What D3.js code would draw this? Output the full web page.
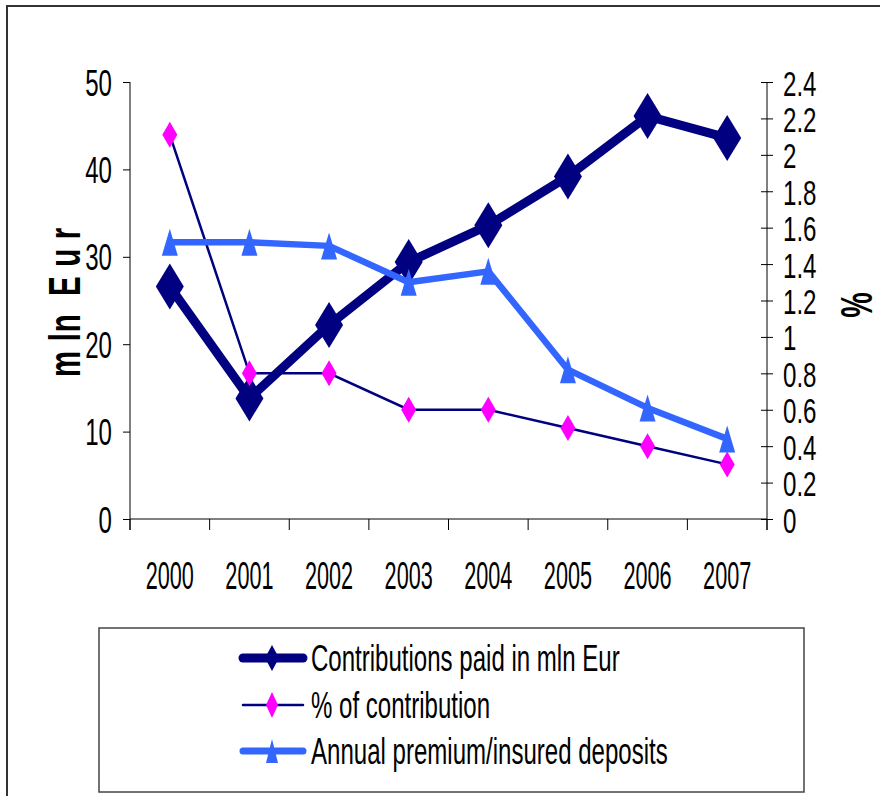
<!DOCTYPE html>
<html><head><meta charset="utf-8">
<script src="https://cdn.jsdelivr.net/npm/d3@7"></script>
<style>
html,body{margin:0;padding:0;background:#fff;}
text{font-family:"Liberation Sans",Arial,sans-serif;fill:#000;}
</style></head>
<body>
<svg id="chart" width="880" height="796"></svg>
<script>
const years = ["2000","2001","2002","2003","2004","2005","2006","2007"];
const contributions = [26.6, 13.8, 22.2, 29.4, 33.6, 39.2, 46.1, 43.6];
const pctContribution = [2.11, 0.8, 0.8, 0.6, 0.6, 0.5, 0.4, 0.3];
const annualPremium = [1.52, 1.52, 1.50, 1.30, 1.36, 0.82, 0.61, 0.44];
const leftTicks = [0, 10, 20, 30, 40, 50];
const rightTicks = [0, 0.2, 0.4, 0.6, 0.8, 1, 1.2, 1.4, 1.6, 1.8, 2, 2.2, 2.4];
const seriesNames = ["Contributions paid in mln Eur", "% of contribution", "Annual premium/insured deposits"];
const leftTitle = "m ln  E u r";
const rightTitle = "%";

const NAVY = "#000080", MAGENTA = "#FF00FF", BLUE = "#3366FF";
const svg = d3.select("#chart");

// outer border
svg.append("rect").attr("x", 7).attr("y", 6).attr("width", 900).attr("height", 820)
  .attr("fill", "none").attr("stroke", "#333").attr("stroke-width", 2);

const x = d3.scaleBand().domain(years).range([130, 767]);
const yL = d3.scaleLinear().domain([0, 50]).range([519, 82]);
const yR = d3.scaleLinear().domain([0, 2.4]).range([519, 82]);
const cx = d => x(d) + x.bandwidth() / 2;

// left axis
const gL = svg.append("g").attr("transform", "translate(130,0)")
  .call(d3.axisLeft(yL).tickValues(leftTicks).tickSize(7).tickSizeOuter(0));
gL.select(".domain").attr("stroke", "#000").attr("d", "M0,82V530");
gL.selectAll(".tick line").attr("stroke", "#000");
gL.selectAll(".tick text").attr("x", null).attr("dy", null)
  .attr("font-size", 37).attr("text-anchor", "end")
  .attr("transform", "translate(-18,13) scale(0.65,1)");

// right axis
const gR = svg.append("g").attr("transform", "translate(767,0)")
  .call(d3.axisRight(yR).tickValues(rightTicks).tickSize(6).tickSizeOuter(0)
    .tickFormat(d => String(+d.toFixed(1))));
gR.select(".domain").attr("stroke", "#000").attr("d", "M0,82V530");
gR.selectAll(".tick line").attr("stroke", "#000").attr("x1", -6).attr("x2", 6);
gR.selectAll(".tick text").attr("x", null).attr("dy", null)
  .attr("font-size", 36).attr("text-anchor", "start")
  .attr("transform", "translate(16,13) scale(0.67,1)");

// bottom axis
const gB = svg.append("g").attr("transform", "translate(0,519)")
  .call(d3.axisBottom(x).tickSize(0).tickSizeOuter(0));
gB.select(".domain").attr("stroke", "#000").attr("d", "M130,0H767");
gB.selectAll(".tick text").attr("y", null).attr("dy", null)
  .attr("font-size", 38).attr("text-anchor", "middle")
  .attr("transform", "translate(0,70) scale(0.57,1)");
const bounds = years.map(d => x(d)).concat([x.range()[1]]);
gB.selectAll("line.bnd").data(bounds).join("line").attr("class", "bnd")
  .attr("x1", d => d).attr("x2", d => d).attr("y1", 0).attr("y2", 11).attr("stroke", "#000");

// axis titles
svg.append("text").attr("transform", "translate(80,302) rotate(-90) scale(0.67,1)")
  .attr("text-anchor", "middle").attr("font-size", 44).attr("font-weight", "bold")
  .attr("xml:space", "preserve")
  .style("white-space", "pre").style("letter-spacing", "1px").text(leftTitle);
svg.append("text").attr("transform", "translate(872,305) rotate(-90) scale(0.65,1)")
  .attr("text-anchor", "middle").attr("font-size", 44).attr("font-weight", "bold")
  .text(rightTitle);

// marker paths
function diamond(w, h) { return `M0,${-h/2}L${w/2},0L0,${h/2}L${-w/2},0Z`; }
function triangle(w, h) { return `M0,${-h/2}L${w/2},${h/2}L${-w/2},${h/2}Z`; }

// series 1: contributions (left axis)
const line1 = d3.line().x((d, i) => cx(years[i])).y(d => yL(d));
svg.append("path").datum(contributions).attr("d", line1).attr("fill", "none")
  .attr("stroke", NAVY).attr("stroke-width", 9).attr("stroke-linejoin", "round");
svg.selectAll("path.m1").data(contributions).join("path").attr("class", "m1")
  .attr("transform", (d, i) => `translate(${cx(years[i])},${yL(d)})`)
  .attr("d", diamond(28, 46)).attr("fill", NAVY);

// series 2: % of contribution (right axis)
const lineR = d3.line().x((d, i) => cx(years[i])).y(d => yR(d));
svg.append("path").datum(pctContribution).attr("d", lineR).attr("fill", "none")
  .attr("stroke", NAVY).attr("stroke-width", 2.5);
svg.selectAll("path.m2").data(pctContribution).join("path").attr("class", "m2")
  .attr("transform", (d, i) => `translate(${cx(years[i])},${yR(d)})`)
  .attr("d", diamond(15, 26)).attr("fill", MAGENTA);

// series 3: annual premium (right axis)
svg.append("path").datum(annualPremium).attr("d", lineR).attr("fill", "none")
  .attr("stroke", BLUE).attr("stroke-width", 6.5).attr("stroke-linejoin", "round");
svg.selectAll("path.m3").data(annualPremium).join("path").attr("class", "m3")
  .attr("transform", (d, i) => `translate(${cx(years[i])},${yR(d)})`)
  .attr("d", triangle(16, 27)).attr("fill", BLUE);

// legend
svg.append("rect").attr("x", 99).attr("y", 628).attr("width", 705).attr("height", 164)
  .attr("fill", "#fff").attr("stroke", "#444").attr("stroke-width", 1.5);
const legendRows = [
  {name: seriesNames[0], y: 658, stroke: NAVY, sw: 9, mk: diamond(14, 26), mf: NAVY},
  {name: seriesNames[1], y: 705, stroke: NAVY, sw: 2.5, mk: diamond(12, 26), mf: MAGENTA},
  {name: seriesNames[2], y: 751, stroke: BLUE, sw: 7, mk: triangle(12, 24), mf: BLUE}
];
const lg = svg.selectAll("g.leg").data(legendRows).join("g").attr("class", "leg")
  .attr("transform", d => `translate(0,${d.y})`);
lg.append("line").attr("x1", 243).attr("x2", 303).attr("y1", 0).attr("y2", 0)
  .attr("stroke", d => d.stroke).attr("stroke-width", d => d.sw).attr("stroke-linecap", "round");
lg.append("path").attr("transform", "translate(272,0)").attr("d", d => d.mk).attr("fill", d => d.mf);
lg.append("text").attr("transform", "translate(311,13) scale(0.65,1)")
  .attr("font-size", 37).text(d => d.name);
</script>
</body></html>
